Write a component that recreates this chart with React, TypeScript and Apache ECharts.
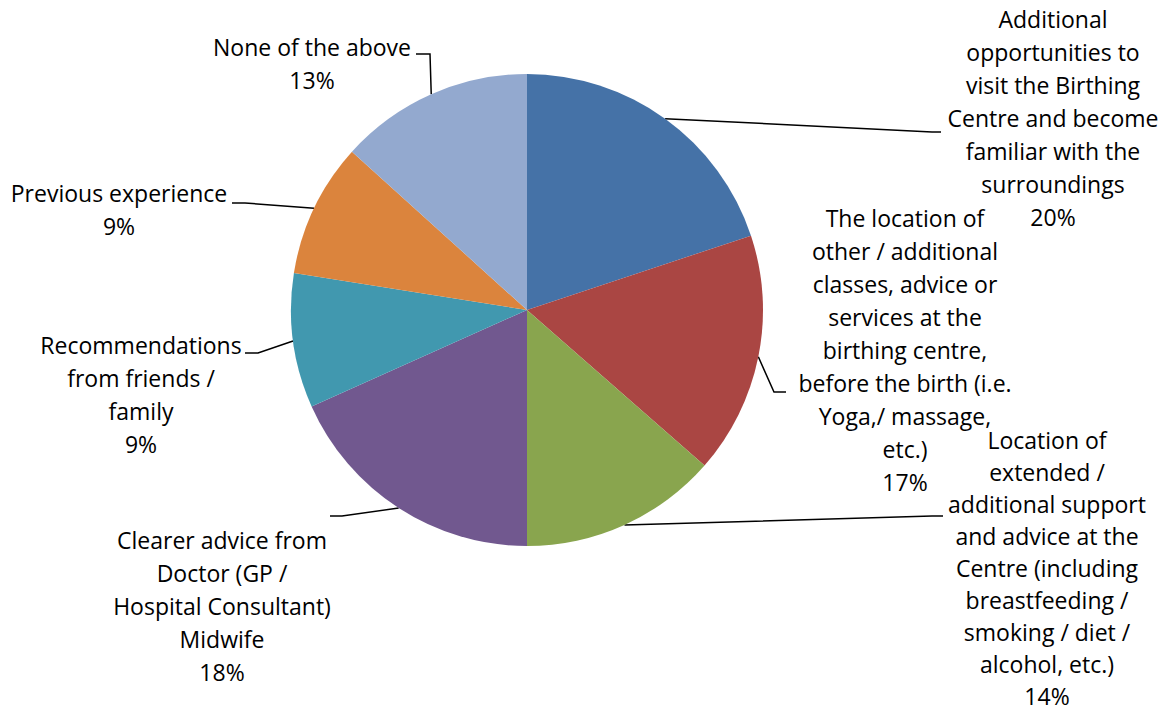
import React, { useEffect, useRef } from 'react';
import * as echarts from 'echarts';

const categories: string[] = [
  'Additional\nopportunities to\nvisit the Birthing\nCentre and become\nfamiliar with the\nsurroundings',
  'The location of\nother / additional\nclasses, advice or\nservices at the\nbirthing centre,\nbefore the birth (i.e.\nYoga,/ massage,\netc.)',
  'Location of\nextended /\nadditional support\nand advice at the\nCentre (including\nbreastfeeding /\nsmoking / diet /\nalcohol, etc.)',
  'Clearer advice from\nDoctor (GP /\nHospital Consultant)\nMidwife',
  'Recommendations\nfrom friends /\nfamily',
  'Previous experience',
  'None of the above',
];
// share of responses (%)
const shares: number[] = [19.9, 16.55, 13.55, 18.3, 9.2, 9.2, 13.3];
const colors: string[] = ['#4572A7', '#AA4643', '#89A54E', '#71588F', '#4198AF', '#DB843D', '#93A9CF'];

// label layout (label centre, line height, leader-line knee, leader-line end)
const labelCenters: number[][] = [[1053, 118], [905, 350], [1047, 568], [222, 606], [141, 394], [119, 209], [312, 63]];
const labelLineHeights: number[] = [33, 33, 32, 33, 33, 33, 33];
const leaderKnees: number[][] = [[932, 132], [774, 392], [932, 516], [342, 516], [258, 353], [245, 203], [430, 54]];
const leaderEnds: number[][] = [[941, 132], [786, 392], [943, 516], [330, 516], [245, 353], [232, 203], [416, 54]];

export default function App() {
  const ref = useRef<HTMLDivElement>(null);
  useEffect(() => {
    document.body.style.margin = '0';
    const chart = echarts.init(ref.current!, null, { renderer: 'svg' });
    chart.setOption({
      animation: false,
      backgroundColor: '#ffffff',
      series: [
        {
          type: 'pie',
          center: [527, 310],
          radius: 236,
          startAngle: 90,
          clockwise: true,
          percentPrecision: 0,
          avoidLabelOverlap: false,
          itemStyle: { borderWidth: 0 },
          data: categories.map((c, i) => ({
            name: c,
            value: shares[i],
            itemStyle: { color: colors[i] },
            label: { lineHeight: labelLineHeights[i] },
          })),
          label: {
            show: true,
            position: 'outside',
            formatter: (p: any) => p.name + '\n' + p.percent + '%',
            fontFamily: '"Open Sans", sans-serif',
            fontSize: 23,
            lineHeight: 33,
            color: '#000000',
            align: 'center',
          },
          labelLine: { show: true, length: 10, length2: 10, lineStyle: { color: '#000000', width: 1.5 } },
          labelLayout: (params: any) => {
            const i = params.dataIndex;
            const p0 = params.labelLinePoints ? params.labelLinePoints[0] : leaderKnees[i];
            return {
              x: labelCenters[i][0],
              y: labelCenters[i][1],
              align: 'center',
              verticalAlign: 'middle',
              labelLinePoints: [p0, leaderKnees[i], leaderEnds[i]],
            };
          },
        },
      ],
    });
    return () => chart.dispose();
  }, []);
  return <div ref={ref} style={{ width: 1172, height: 713 }} />;
}
